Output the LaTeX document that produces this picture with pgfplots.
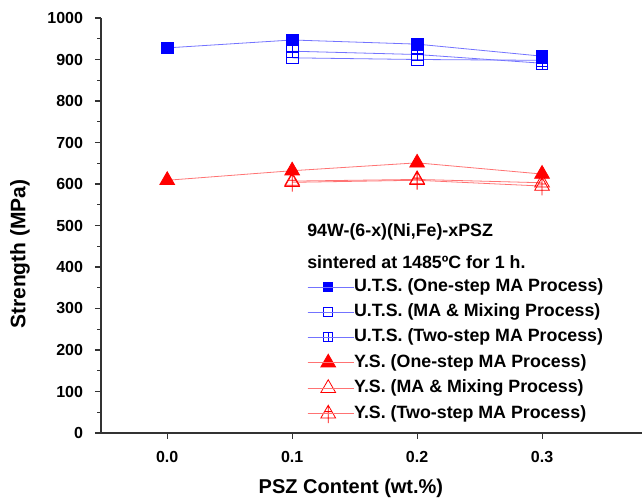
\documentclass[border=0pt]{standalone}
\usepackage{fontspec}
\setmainfont{Liberation Sans}
\usepackage{pgfplots}
\pgfplotsset{compat=1.18}

\pgfdeclareplotmark{sqplus}{%
  \pgfpathrectangle{\pgfpoint{-\pgfplotmarksize}{-\pgfplotmarksize}}{\pgfpoint{2\pgfplotmarksize}{2\pgfplotmarksize}}%
  \pgfpathmoveto{\pgfpoint{0pt}{-\pgfplotmarksize}}\pgfpathlineto{\pgfpoint{0pt}{\pgfplotmarksize}}%
  \pgfpathmoveto{\pgfpoint{-\pgfplotmarksize}{0pt}}\pgfpathlineto{\pgfpoint{\pgfplotmarksize}{0pt}}%
  \pgfusepathqstroke}
\pgfdeclareplotmark{triplus}{%
  \pgfpathmoveto{\pgfpoint{0pt}{\pgfplotmarksize}}%
  \pgfpathlineto{\pgfpoint{-0.866\pgfplotmarksize}{-0.5\pgfplotmarksize}}%
  \pgfpathlineto{\pgfpoint{0.866\pgfplotmarksize}{-0.5\pgfplotmarksize}}%
  \pgfpathclose
  \pgfpathmoveto{\pgfpoint{0pt}{\pgfplotmarksize}}\pgfpathlineto{\pgfpoint{0pt}{-1.1\pgfplotmarksize}}%
  \pgfpathmoveto{\pgfpoint{-0.43\pgfplotmarksize}{0.25\pgfplotmarksize}}\pgfpathlineto{\pgfpoint{0.43\pgfplotmarksize}{0.25\pgfplotmarksize}}%
  \pgfusepathqstroke}

\definecolor{axgray}{HTML}{333333}
\colorlet{blueline}{blue!55}
\colorlet{redline}{red!55}

\begin{document}
\begin{tikzpicture}
\begin{axis}[
    scale only axis,
    width=541pt, height=415pt,
    xmin=-0.053, xmax=0.38,
    ymin=0, ymax=1000,
    axis x line*=bottom, axis y line*=left,
    axis line style={axgray, line width=1.3pt},
    every tick/.style={axgray, line width=1.1pt},
    tick align=outside,
    major tick length=6pt, minor tick length=3.5pt,
    xtick={0,0.1,0.2,0.3},
    ytick={0,100,...,1000},
    minor y tick num=1,
    /pgf/number format/1000 sep={},
    xticklabel style={/pgf/number format/fixed, /pgf/number format/fixed zerofill, /pgf/number format/precision=1},
    /pgf/number format/assume math mode=true,
    ticklabel style={font=\fontsize{16}{18}\selectfont\bfseries},
    xticklabel style={yshift=-9pt},
    yticklabel style={xshift=-8.5pt},
    xlabel={PSZ Content (wt.\%)},
    ylabel={Strength (MPa)},
    xlabel style={font=\fontsize{20}{22}\selectfont\bfseries, at={(rel axis cs:0.462,0)}, anchor=center, yshift=-55pt},
    ylabel style={font=\fontsize{21}{23}\selectfont\bfseries, at={(rel axis cs:0,0.431)}, anchor=center, yshift=81pt},
    legend style={draw=none, fill=none, at={(rel axis cs:0.381,0.371)}, anchor=north west,
        font=\fontsize{17.8}{19}\selectfont\bfseries, inner sep=0pt,
        row sep=9pt, nodes={inner sep=0pt, text height=12.5pt, text depth=3.5pt}},
    legend cell align=left,
    legend image code/.code={%
        \draw[mark repeat=2,mark phase=2] plot coordinates {(0pt,0pt)(20.5pt,0pt)(41pt,0pt)};
        \path (0pt,0pt) -- (46pt,0pt);},
    every axis plot/.append style={line width=0.8pt},
]
\addplot[blueline, mark=square*, mark size=5.8pt, mark options={blue, fill=blue, solid}, legend image post style={mark size=4.5pt}]
  coordinates {(0.0,928) (0.1,947) (0.2,937) (0.3,908)};
\addlegendentry{U.T.S. (One-step MA Process)}
\addplot[blueline, mark=square, mark size=5.8pt, mark options={blue, solid}, legend image post style={mark size=4.5pt}]
  coordinates {(0.1,904) (0.2,900) (0.3,898)};
\addlegendentry{U.T.S. (MA \& Mixing Process)}
\addplot[blueline, mark=sqplus, mark size=5.8pt, mark options={blue, solid}, legend image post style={mark size=4.5pt}]
  coordinates {(0.1,920) (0.2,912) (0.3,891)};
\addlegendentry{U.T.S. (Two-step MA Process)}
\addplot[redline, mark=triangle*, mark size=8.5pt, mark options={red, fill=red, solid}]
  coordinates {(0.0,609) (0.1,632) (0.2,651) (0.3,624)};
\addlegendentry{Y.S. (One-step MA Process)}
\addplot[redline, mark=triangle, mark size=8.5pt, mark options={red, solid}]
  coordinates {(0.1,607) (0.2,611) (0.3,603)};
\addlegendentry{Y.S. (MA \& Mixing Process)}
\addplot[redline, mark=triplus, mark size=8.5pt, mark options={red, solid}]
  coordinates {(0.1,604) (0.2,609) (0.3,595)};
\addlegendentry{Y.S. (Two-step MA Process)}
\node[anchor=west, font=\fontsize{17.8}{19}\selectfont\bfseries, inner sep=0pt] at (rel axis cs:0.381,0.484) {94W-(6-x)(Ni,Fe)-xPSZ};
\node[anchor=west, font=\fontsize{17.8}{19}\selectfont\bfseries, inner sep=0pt] at (rel axis cs:0.381,0.412) {sintered at 1485ºC for 1 h.};
\coordinate (ll) at (rel axis cs:0,0);
\coordinate (ur) at (rel axis cs:1,1);
\end{axis}
\pgfresetboundingbox
\path[use as bounding box] ([shift={(-101pt,-67pt)}]ll) rectangle ([shift={(0pt,18pt)}]ur);
\end{tikzpicture}
\end{document}
